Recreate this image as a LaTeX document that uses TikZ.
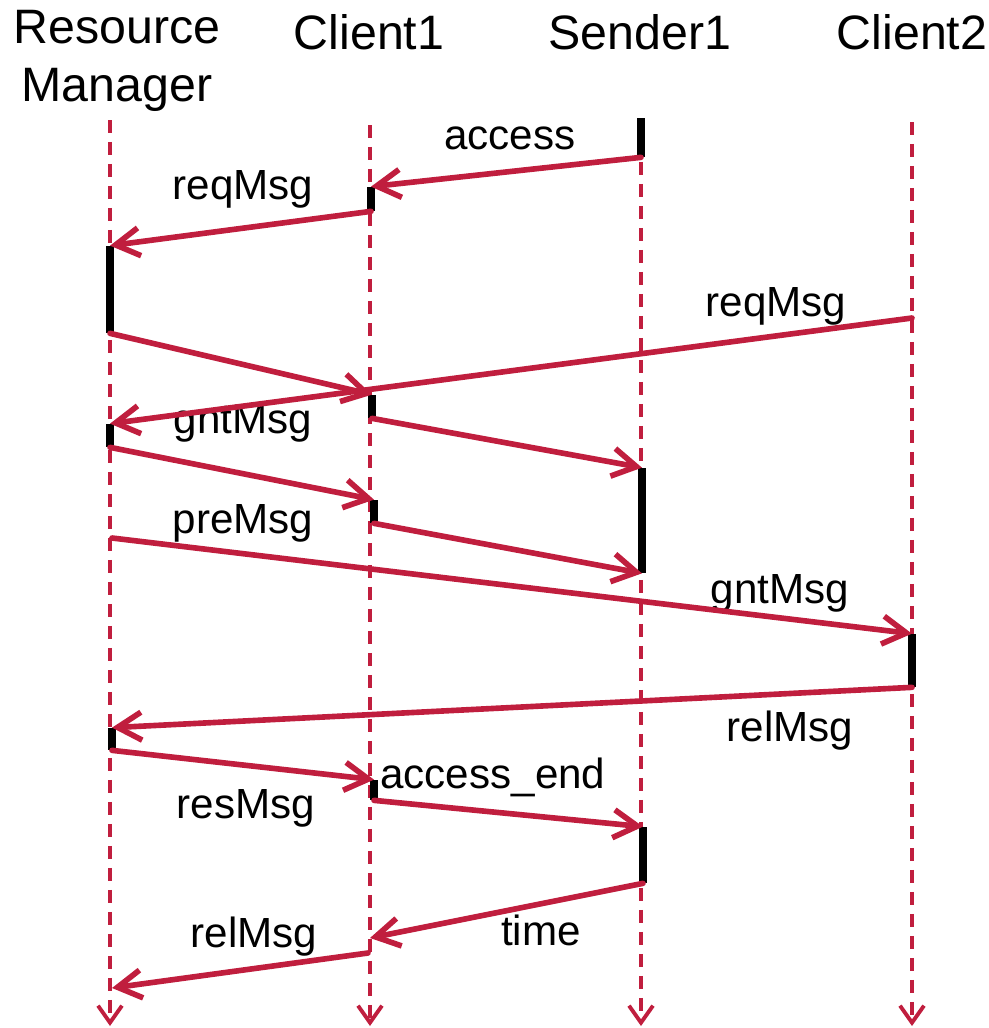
\documentclass[tikz,border=0pt]{standalone}
\usepackage{fontspec}
\setmainfont{Liberation Sans}
\usetikzlibrary{arrows.meta}
\definecolor{LifeRed}{RGB}{192, 30, 62}

\begin{document}
\begin{tikzpicture}[x=0.02cm, y=-0.02cm,
  head/.style={font=\fontsize{27.5}{33}\selectfont, align=center, inner sep=0pt},
  lab/.style={font=\fontsize{24}{28}\selectfont, inner sep=0pt},
  actbar/.style={fill=black, inner sep=0pt, minimum width=0.15cm},
  life/.style={LifeRed, line width=2.2pt, dash pattern=on 0.26cm off 0.18cm, -{Straight Barb[length=0.34cm, width=0.48cm]}},
  msg/.style={-{Straight Barb[length=0.48cm, width=0.56cm]}, LifeRed, line width=3.2pt, line cap=round}]
\useasboundingbox (0,0) rectangle (989,1028);
\node[head] (h-rm) at (117,61) {Resource\\Manager};
\node[head] (h-cl1) at (369,32) {Client1};
\node[head] (h-snd) at (640,32) {Sender1};
\node[head] (h-cl2) at (912,32) {Client2};
\coordinate (rm-top) at (110,120); \coordinate (rm-bot) at (110,1026);
\coordinate (cl1-top) at (370,125); \coordinate (cl1-bot) at (370,1026);
\coordinate (snd-top) at (641,118); \coordinate (snd-bot) at (641,1026);
\coordinate (cl2-top) at (912,122); \coordinate (cl2-bot) at (912,1026);
\draw[life] (rm-top) -- (rm-bot); \draw[life] (cl1-top) -- (cl1-bot);
\draw[life] (snd-top) -- (snd-bot); \draw[life] (cl2-top) -- (cl2-bot);
% activations
\node[actbar, minimum height=0.78cm] (snd-a) at (641,137.5) {};
\node[actbar, minimum height=0.48cm] (cl1-a) at (371,199) {};
\node[actbar, minimum height=1.74cm] (rm-a) at (110,289.5) {};
\node[actbar, minimum height=0.46cm] (cl1-b) at (372,406.5) {};
\node[actbar, minimum height=0.46cm] (rm-b) at (110,435.5) {};
\node[actbar, minimum height=2.10cm] (snd-b) at (642,520.5) {};
\node[actbar, minimum height=0.46cm] (cl1-c) at (374,511.5) {};
\node[actbar, minimum height=1.06cm] (cl2-a) at (912,660.5) {};
\node[actbar, minimum height=0.44cm] (rm-c) at (112,739) {};
\node[actbar, minimum height=0.40cm] (cl1-d) at (374,790) {};
\node[actbar, minimum height=1.12cm] (snd-c) at (643,855) {};
\coordinate (cl2-req) at (912,318); \coordinate (rm-pre) at (112,538);
\coordinate (cl1-time) at (370,938); \coordinate (cl1-rel) at (368,953);
\coordinate (rm-end) at (112,988);
% labels
\node[lab] (l-access) at (510,138) {access};
\node[lab] (l-req1) at (243,189) {reqMsg};
\node[lab] (l-req2) at (776,306) {reqMsg};
\node[lab] (l-gnt1) at (243,423) {gntMsg};
\node[lab] (l-pre) at (243,523) {preMsg};
\node[lab] (l-gnt2) at (780,593) {gntMsg};
\node[lab] (l-rel1) at (790,731) {relMsg};
\node[lab, anchor=west] (l-accend) at (380,777) {access\_end};
\node[lab] (l-res) at (246,808) {resMsg};
\node[lab] (l-time) at (541,930) {time};
\node[lab] (l-rel2) at (254,937) {relMsg};
% messages
\draw[msg] (snd-a.south) -- (cl1-a.north); \draw[msg] (cl1-a.south) -- (rm-a.north);
\draw[msg] (rm-a.south) -- (cl1-b.north); \draw[msg] (cl2-req) -- (rm-b.north);
\draw[msg] (cl1-b.south) -- (snd-b.north); \draw[msg] (rm-b.south) -- (cl1-c.north);
\draw[msg] (cl1-c.south) -- (snd-b.south); \draw[msg] (rm-pre) -- (cl2-a.north);
\draw[msg] (cl2-a.south) -- (rm-c.north); \draw[msg] (rm-c.south) -- (cl1-d.north);
\draw[msg] (cl1-d.south) -- (snd-c.north); \draw[msg] (snd-c.south) -- (cl1-time);
\draw[msg] (cl1-rel) -- (rm-end);
\end{tikzpicture}
\end{document}
